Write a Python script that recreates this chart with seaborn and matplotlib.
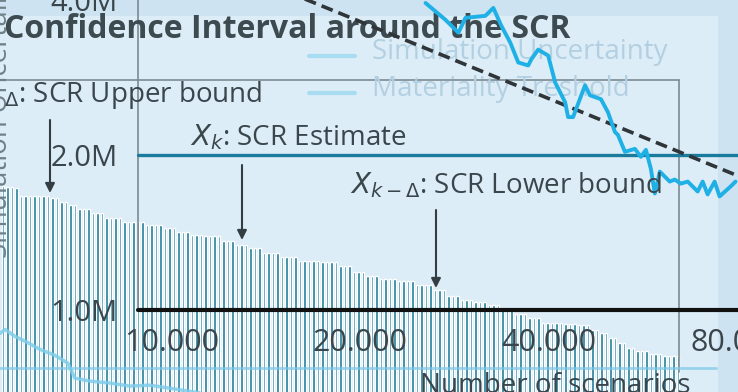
import numpy as np
import seaborn as sns
import matplotlib
matplotlib.use("Agg")
import matplotlib.pyplot as plt
from matplotlib.patches import Rectangle

sns.set_style("white")
plt.rcParams['font.family'] = ['Open Sans', 'DejaVu Sans']
plt.rcParams['mathtext.fontset'] = 'dejavusans'

# --- data ---
# simulated SCR per batch of scenarios (in M), one bar each
bar_vals = [1.73, 1.72, 1.72, 1.71,
            1.65, 1.65, 1.65, 1.65, 1.65, 1.65, 1.65,
            1.64, 1.64, 1.61, 1.61, 1.59, 1.59,
            1.56, 1.56, 1.56, 1.53, 1.53, 1.53,
            1.50, 1.50, 1.50, 1.50, 1.47, 1.47, 1.47, 1.47, 1.47,
            1.45, 1.45, 1.45, 1.45, 1.43, 1.43, 1.43, 1.41, 1.41, 1.41,
            1.39, 1.39, 1.39, 1.38, 1.38, 1.38, 1.38,
            1.35, 1.35, 1.35, 1.33, 1.33, 1.33, 1.31, 1.31, 1.31,
            1.28, 1.28, 1.28, 1.28, 1.26, 1.26, 1.26, 1.26,
            1.24, 1.24, 1.24, 1.24, 1.24, 1.23, 1.23, 1.23, 1.23,
            1.21, 1.21, 1.21, 1.18, 1.18, 1.18, 1.16, 1.16, 1.16,
            1.14, 1.14, 1.14, 1.14, 1.13, 1.13, 1.13, 1.13,
            1.11, 1.11, 1.11, 1.11, 1.09, 1.09, 1.09,
            1.06, 1.06, 1.06, 1.04, 1.04, 1.04, 1.03, 1.03, 1.03,
            1.02, 1.02, 1.02, 1.00, 1.00, 1.00, 0.98, 0.98, 0.98,
            0.96, 0.96, 0.96, 0.94, 0.94, 0.94, 0.94, 0.94,
            0.935, 0.935, 0.935, 0.93, 0.93, 0.93,
            0.91, 0.91, 0.90, 0.90, 0.88, 0.88, 0.86, 0.86, 0.84, 0.84,
            0.83, 0.83, 0.83, 0.82, 0.82, 0.82, 0.81, 0.81, 0.81, 0.81]
bar_idx = np.arange(len(bar_vals))
bar_base = 0.5

# simulation uncertainty (noisy curve)
unc_x = [25410, 27340, 28670, 29420, 31650, 32590, 33560, 34680, 35710, 37040,
         37450, 38420, 39850, 40890, 42410, 42880, 43670, 45630, 46470, 48380,
         49630, 50930, 51490, 52830, 54790, 56010, 57050, 58100, 58960, 60040,
         62280, 63430, 64840, 66520, 68990, 70270, 71560, 73420, 74770, 77840, 79280]
unc_y = [3.947, 3.660, 3.455, 3.693, 3.726, 3.861, 3.564, 3.305, 3.024, 2.984,
         3.064, 3.203, 3.119, 2.766, 2.531, 2.368, 2.368, 2.730, 2.611, 2.565,
         2.421, 2.215, 2.186, 2.027, 2.054, 1.982, 2.045, 1.879, 1.682, 1.855,
         1.774, 1.790, 1.758, 1.774, 1.697, 1.774, 1.675, 1.774, 1.660, 1.735, 1.774]

# 1/sqrt(n) reference (dashed)
ref_x = [15000, 80000]
ref_y = [4.19, 1.82]

# faint curve bottom left
low_x = [5331, 5429, 5630, 5887, 6170, 6519, 6836, 7012, 7409, 7968, 8576, 9227, 10110, 11080]
low_y = [0.899, 0.915, 0.887, 0.864, 0.837, 0.815, 0.787, 0.736, 0.726, 0.720,
         0.710, 0.713, 0.701, 0.689]

scr_estimate = 2.0
scr_threshold = 1.0
floor_level = 0.769

x_ticks = [10000, 20000, 40000, 80000]
x_labels = ['10.000', '20.000', '40.000', '80.000']
y_ticks = [1.0, 2.0, 4.0]
y_labels = ['1.0M', '2.0M', '4.0M']

W, H = 738, 392
def fx(px):
    return px / W
def fy(py):
    return 1 - py / H

txt = '#3a464c'
fig = plt.figure(figsize=(7.38, 3.92), dpi=100)
fig.patch.set_facecolor('#cde3f1')

# bars axis (behind)
axb = fig.add_axes([0, 0, 1, 1])
axb.set_facecolor('none')
axb.add_patch(Rectangle((0, 0), fx(718), fy(16), transform=fig.transFigure,
                        facecolor='#dcedf7', edgecolor='none', zorder=0))
axb.set_yscale('log')
axb.bar(bar_idx, np.array(bar_vals) - bar_base, width=0.55, bottom=bar_base,
        color='#1d7c99', zorder=2)
axb.set_xlim(-3 / 4.5, 735 / 4.5)
axb.set_ylim(0.6915, 3.947)
axb.axis('off')

# main axis
ax = fig.add_axes([0, 0, 1, 1])
ax.set_facecolor('none')
ax.set_xscale('log')
ax.set_yscale('log')
ax.set_xlim(5329, 79280)
ax.set_ylim(0.6915, 3.947)
for s in ax.spines.values():
    s.set_visible(False)

# frame lines
ax.plot([fx(138), fx(138)], [fy(0), fy(310)], transform=fig.transFigure, color='#7c8a90', lw=1.2, zorder=1)
ax.plot([fx(0), fx(679)], [fy(80), fy(80)], transform=fig.transFigure, color='#7c8a90', lw=1.2, zorder=1)
ax.plot([fx(679), fx(679)], [fy(80), fy(372)], transform=fig.transFigure, color='#7c8a90', lw=1.2, zorder=1)

# faded legend
ax.plot([fx(309), fx(355)], [fy(56), fy(56)], transform=fig.transFigure, color='#a8dcf0', lw=3, zorder=1)
ax.plot([fx(309), fx(355)], [fy(93), fy(93)], transform=fig.transFigure, color='#a8dcf0', lw=3, zorder=1)
ax.text(fx(372), fy(52), 'Simulation Uncertainty', transform=fig.transFigure, fontsize=20,
        color='#b3d0e2', va='center', ha='left', zorder=1)
ax.text(fx(372), fy(89), 'Materiality Treshold', transform=fig.transFigure, fontsize=20,
        color='#b3d0e2', va='center', ha='left', zorder=1)
ax.text(fx(0), fy(110), 'Simulation Uncertainty', transform=fig.transFigure, fontsize=20,
        color='#6f8089', rotation=90, va='center', ha='center', zorder=1)

# title (under the curves)
ax.text(fx(4), fy(30), 'Confidence Interval around the SCR', transform=fig.transFigure,
        fontsize=23, fontweight='bold', color='#3d4a50', va='center', ha='left', zorder=2)

# thresholds
ax.axhline(scr_estimate, xmin=fx(138), xmax=1, color='#1b7b9c', lw=2.4, zorder=3)
ax.axhline(scr_threshold, xmin=fx(138), xmax=1, color='#111111', lw=3, zorder=3)
ax.plot([5329, 73690], [floor_level, floor_level], color='#7cc8e8', lw=2, alpha=0.7, zorder=3)

sns.lineplot(x=low_x, y=low_y, ax=ax, color='#7fcdea', lw=2.5, alpha=0.85, zorder=3)
sns.lineplot(x=ref_x, y=ref_y, ax=ax, color='#2f3538', lw=2.6, dashes=False, zorder=4)
ax.lines[-1].set_dashes((3.3, 1.7))
sns.lineplot(x=unc_x, y=unc_y, ax=ax, color='#1fb0e6', lw=2.8, zorder=5)

# ticks
ax.set_xticks(x_ticks)
ax.set_xticklabels(x_labels)
ax.set_yticks(y_ticks)
ax.set_yticklabels(y_labels)
ax.minorticks_off()
ax.tick_params(axis='y', length=0, pad=-85, labelsize=21, labelcolor=txt)
ax.tick_params(axis='x', length=0, pad=-46, labelsize=22, labelcolor=txt)
for lab in ax.get_yticklabels():
    lab.set_horizontalalignment('right')
ax.set_xlabel('')
ax.set_ylabel('')

ax.text(fx(420), fy(386), 'Number of scenarios', transform=fig.transFigure, fontsize=20,
        color=txt, va='center', ha='left', zorder=6)

# annotations
arrow = dict(arrowstyle='-|>', color='#333d42', lw=1.5, mutation_scale=14, shrinkA=0, shrinkB=0)
ax.text(fx(262), fy(95), r'$X_{k+\Delta}$: SCR Upper bound', transform=fig.transFigure,
        fontsize=20, color=txt, va='center', ha='right', zorder=6)
ax.annotate('', xy=(fx(50), fy(193)), xytext=(fx(50), fy(120)), xycoords='figure fraction',
            textcoords='figure fraction', arrowprops=arrow, zorder=6)
ax.text(fx(190), fy(137), r'$X_k$: SCR Estimate', transform=fig.transFigure,
        fontsize=20, color=txt, va='center', ha='left', zorder=6)
ax.annotate('', xy=(fx(242), fy(240)), xytext=(fx(242), fy(165)), xycoords='figure fraction',
            textcoords='figure fraction', arrowprops=arrow, zorder=6)
ax.text(fx(350), fy(185), r'$X_{k-\Delta}$: SCR Lower bound', transform=fig.transFigure,
        fontsize=20, color=txt, va='center', ha='left', zorder=6)
ax.annotate('', xy=(fx(436), fy(288)), xytext=(fx(436), fy(210)), xycoords='figure fraction',
            textcoords='figure fraction', arrowprops=arrow, zorder=6)

fig.savefig('out.png', dpi=100, facecolor=fig.get_facecolor())
